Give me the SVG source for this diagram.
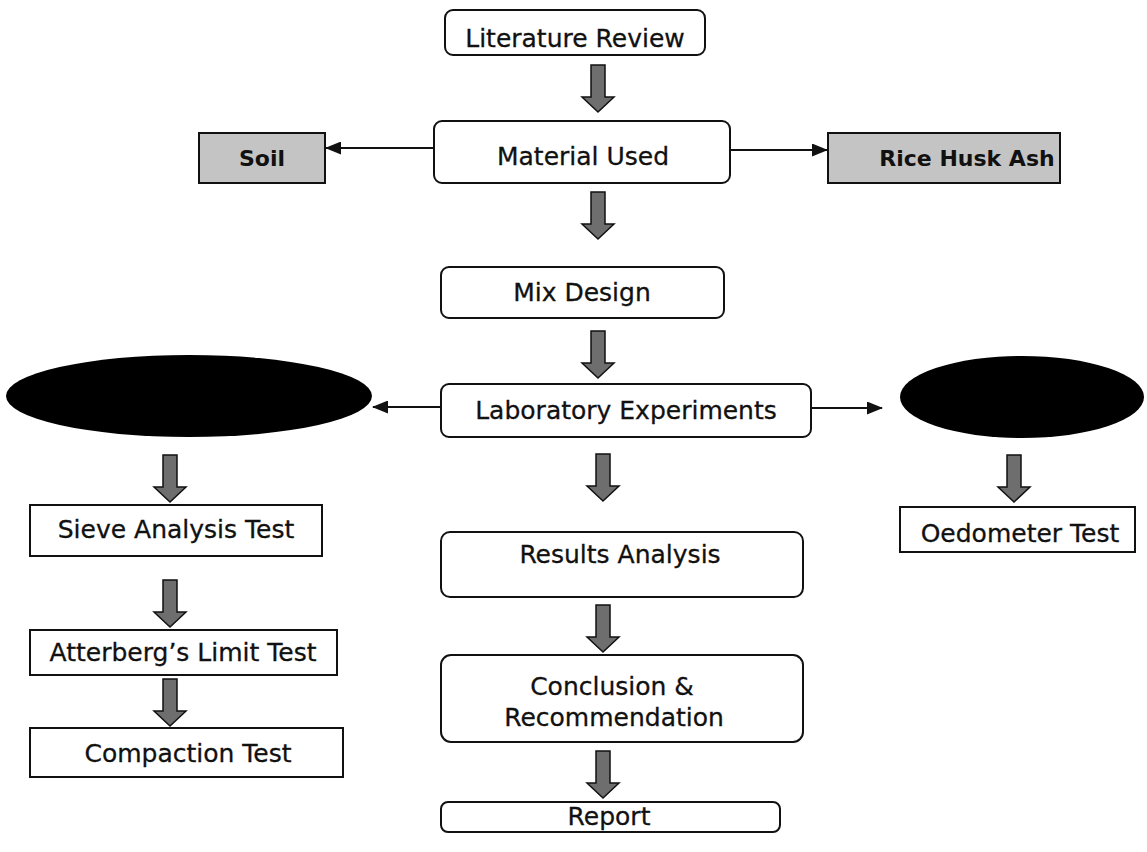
<svg xmlns="http://www.w3.org/2000/svg" width="1147" height="852" viewBox="0 0 1147 852">
<style>
.box{fill:#fff;stroke:#111;stroke-width:2}
.grey{fill:#c4c4c4;stroke:#111;stroke-width:2}
.t{font-family:"DejaVu Sans",Verdana,sans-serif;font-size:25px;fill:#111;stroke:#111;stroke-width:0.3;text-anchor:middle}
.tb{font-family:"DejaVu Sans",Verdana,sans-serif;font-size:22px;font-weight:bold;fill:#111;text-anchor:middle}
.line{stroke:#111;stroke-width:2;fill:none}
.blk{fill:#6e6e6e;stroke:#111;stroke-width:1.5}
</style>
<defs>
<marker id="ah" viewBox="0 0 16 13" refX="15" refY="6.5" markerWidth="16" markerHeight="13" markerUnits="userSpaceOnUse" orient="auto">
<path d="M0,0 L16,6.5 L0,13 Z" fill="#111"/>
</marker>
<path id="barrow" d="M-7,0 H7 V32 H16 L0,47 L-16,32 H-7 Z"/>
</defs>

<g id="connectors">
<line class="line" x1="434" y1="148" x2="326" y2="148" marker-end="url(#ah)"/>
<line class="line" x1="730" y1="150" x2="827" y2="150" marker-end="url(#ah)"/>
<line class="line" x1="441" y1="407" x2="373" y2="407" marker-end="url(#ah)"/>
<line class="line" x1="811" y1="408" x2="882" y2="408" marker-end="url(#ah)"/>
<use href="#barrow" class="blk" transform="translate(598,65)"/>
<use href="#barrow" class="blk" transform="translate(598,192)"/>
<use href="#barrow" class="blk" transform="translate(598,331)"/>
<use href="#barrow" class="blk" transform="translate(170,455)"/>
<use href="#barrow" class="blk" transform="translate(170,580)"/>
<use href="#barrow" class="blk" transform="translate(170,679)"/>
<use href="#barrow" class="blk" transform="translate(603,454)"/>
<use href="#barrow" class="blk" transform="translate(603,605)"/>
<use href="#barrow" class="blk" transform="translate(603,751)"/>
<use href="#barrow" class="blk" transform="translate(1014,455)"/>
</g>

<g id="literature-review">
<rect class="box" x="445" y="10" width="260" height="45" rx="8"/>
<text class="t" x="575" y="47">Literature Review</text>
</g>
<g id="material-used">
<rect class="box" x="434" y="121" width="296" height="62" rx="8"/>
<text class="t" x="583" y="165">Material Used</text>
</g>
<g id="soil">
<rect class="grey" x="199" y="133" width="126" height="50"/>
<text class="tb" x="262" y="166">Soil</text>
</g>
<g id="rice-husk-ash">
<rect class="grey" x="828" y="133" width="232" height="50"/>
<text class="tb" x="967" y="166">Rice Husk Ash</text>
</g>
<g id="mix-design">
<rect class="box" x="441" y="267" width="283" height="51" rx="8"/>
<text class="t" x="582" y="301">Mix Design</text>
</g>
<g id="laboratory-experiments">
<rect class="box" x="441" y="384" width="370" height="53" rx="8"/>
<text class="t" x="626" y="419">Laboratory Experiments</text>
</g>
<g id="left-ellipse">
<ellipse cx="189" cy="396" rx="183" ry="41" fill="#000"/>
</g>
<g id="right-ellipse">
<ellipse cx="1022" cy="397" rx="122" ry="41" fill="#000"/>
</g>
<g id="sieve-analysis">
<rect class="box" x="30" y="505" width="292" height="51"/>
<text class="t" x="176" y="538">Sieve Analysis Test</text>
</g>
<g id="atterberg">
<rect class="box" x="30" y="630" width="307" height="45"/>
<text class="t" x="183" y="661">Atterberg’s Limit Test</text>
</g>
<g id="compaction">
<rect class="box" x="30" y="728" width="313" height="49"/>
<text class="t" x="188" y="762">Compaction Test</text>
</g>
<g id="oedometer">
<rect class="box" x="900" y="507" width="235" height="45"/>
<text class="t" x="1020" y="542">Oedometer Test</text>
</g>
<g id="results-analysis">
<rect class="box" x="441" y="532" width="362" height="65" rx="9"/>
<text class="t" x="620" y="563">Results Analysis</text>
</g>
<g id="conclusion">
<rect class="box" x="441" y="655" width="362" height="87" rx="10"/>
<text class="t" x="612" y="695">Conclusion &amp;</text>
<text class="t" x="614" y="726">Recommendation</text>
</g>
<g id="report">
<rect class="box" x="441" y="802" width="339" height="30" rx="7"/>
<text class="t" x="609" y="825">Report</text>
</g>
</svg>
